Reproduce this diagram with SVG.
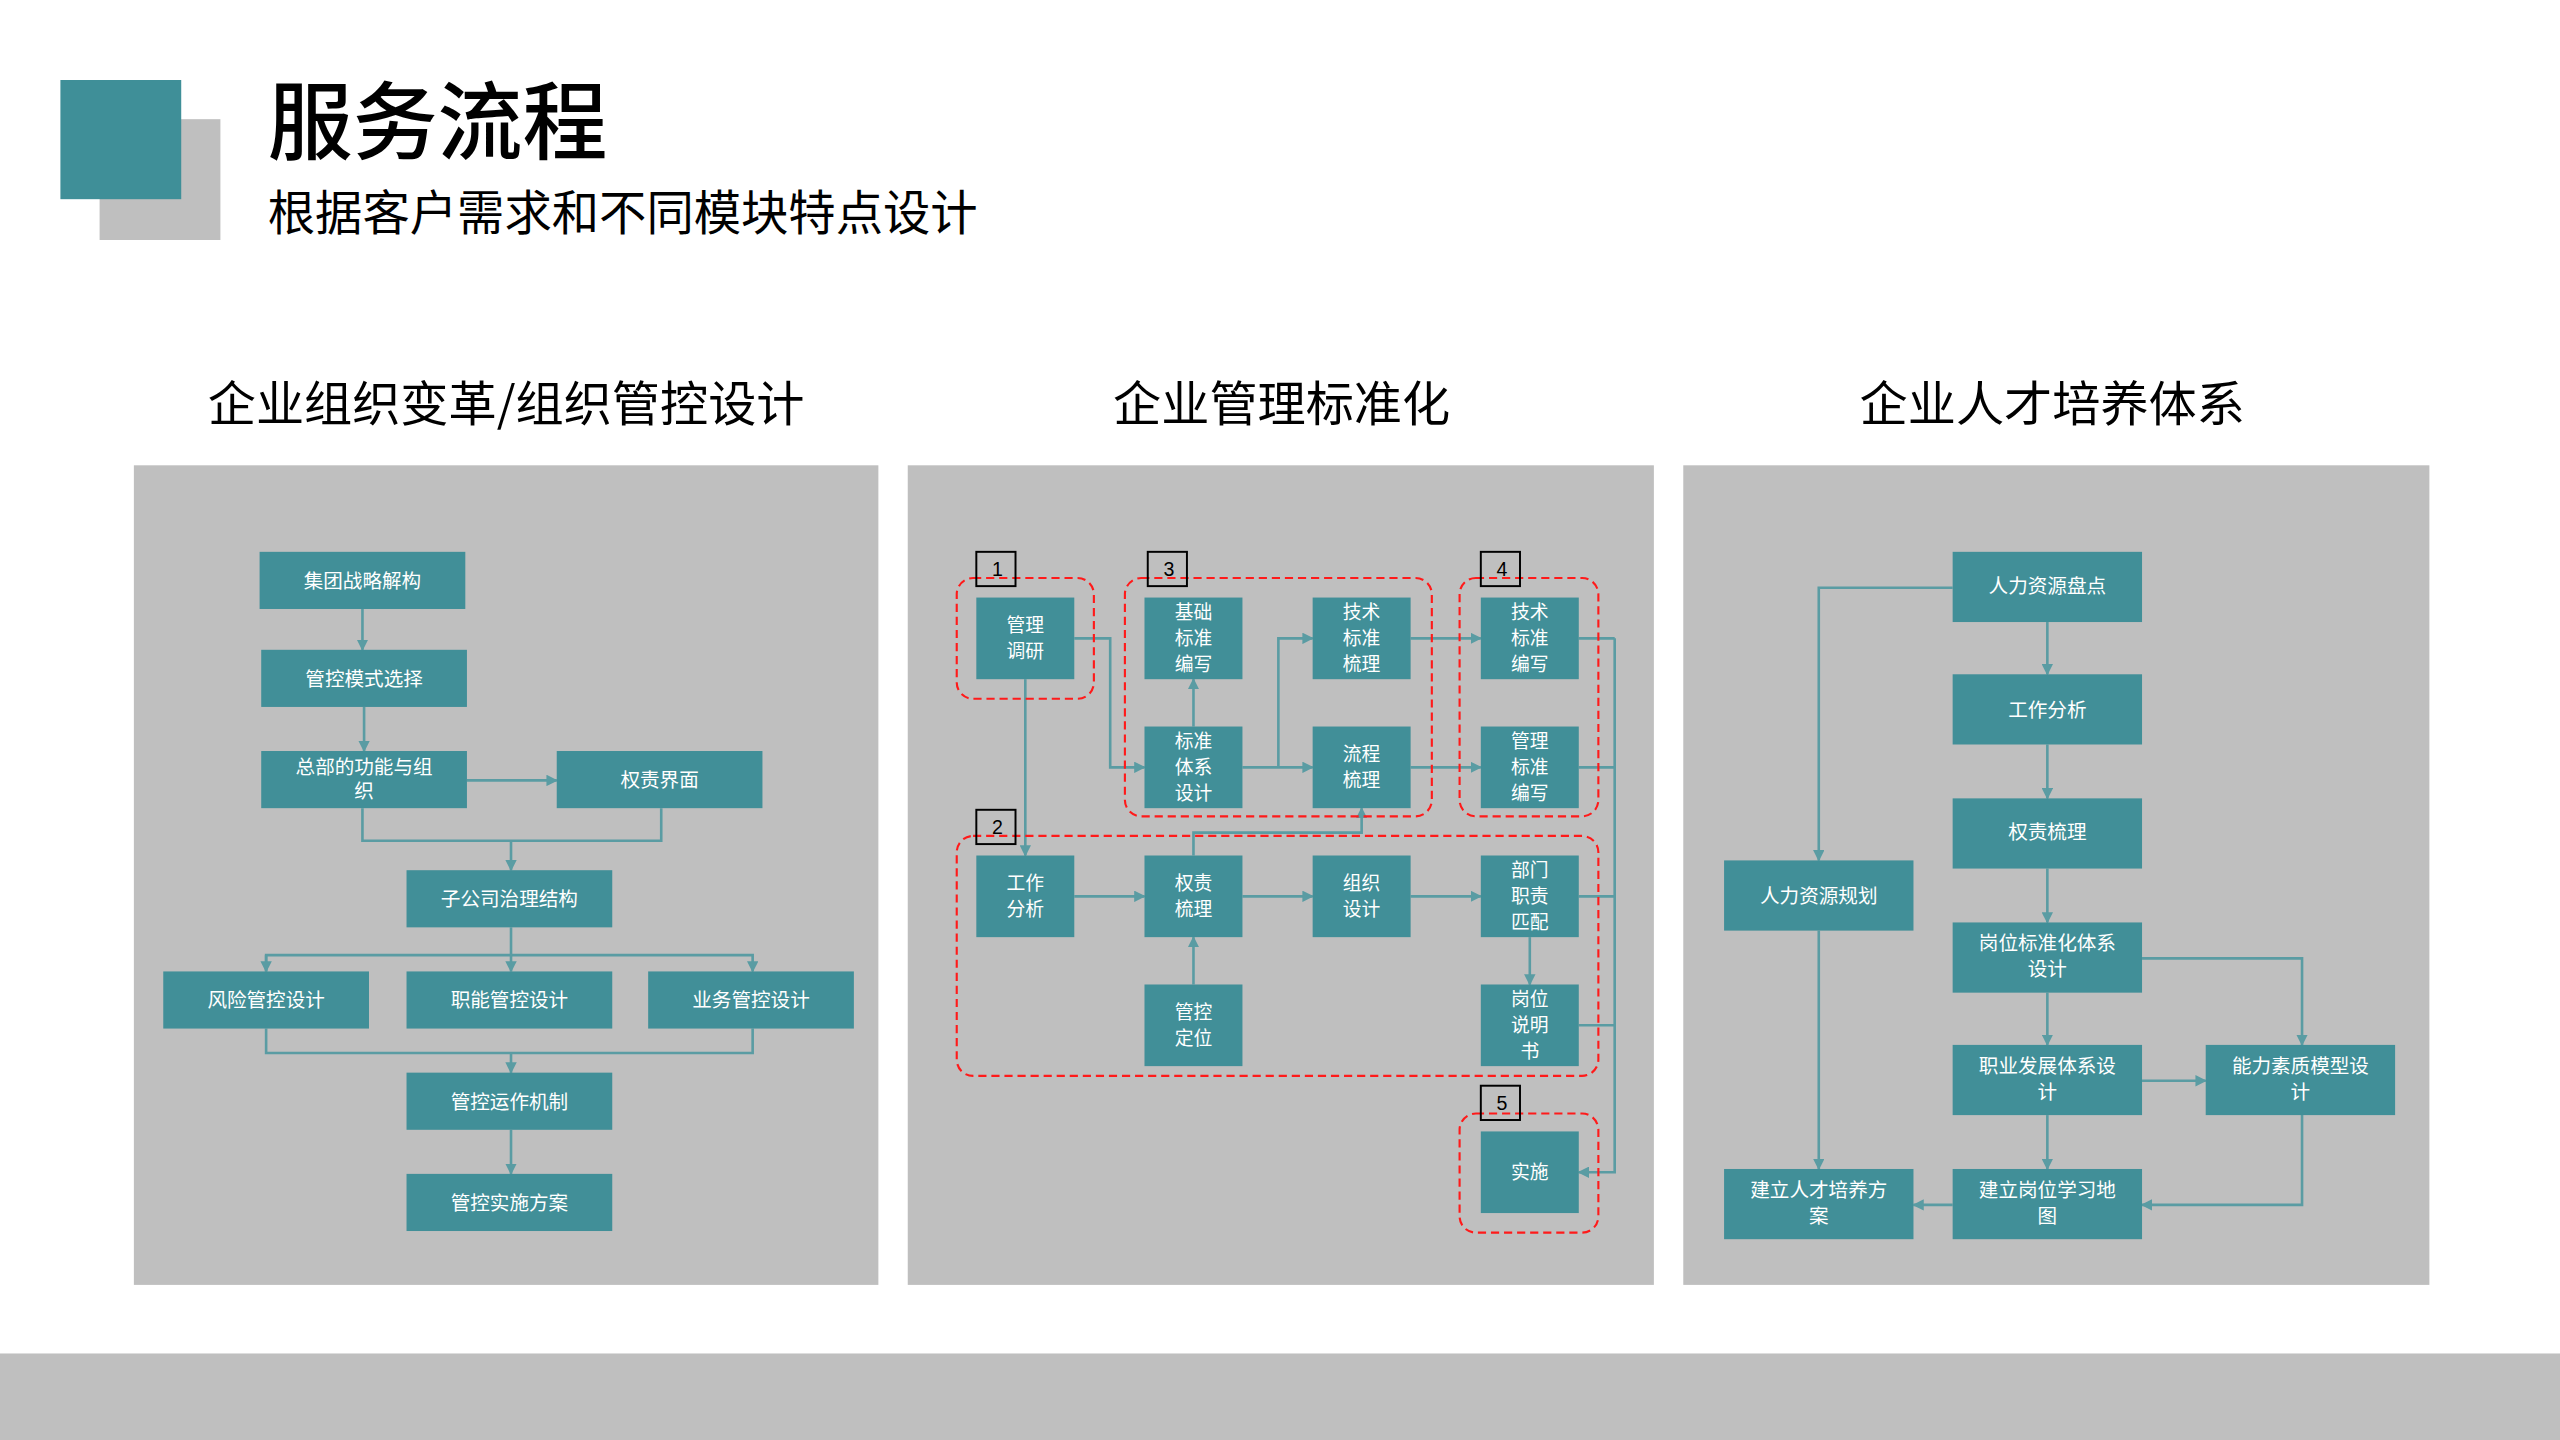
<svg xmlns="http://www.w3.org/2000/svg" width="2560" height="1440" viewBox="0 0 2560 1440">
<style>
.n{fill:#418f98}
.t{fill:#fff;font-family:"Noto Sans CJK SC","Noto Sans",sans-serif;font-size:12px;text-anchor:middle}
.m{font-size:11.5px}
.c{fill:none;stroke:#5a9ca3;stroke-width:1.6}
.r{fill:none;stroke:#ff1a1a;stroke-width:1.3;stroke-dasharray:5 3}
.lb{fill:none;stroke:#000;stroke-width:1.2}
.lt{font-family:"Liberation Sans",sans-serif;font-size:12px;text-anchor:middle;fill:#000}
.h{font-family:"Noto Sans CJK SC",sans-serif;fill:#000}
</style>
<defs><marker id="a" viewBox="0 0 10 10" refX="9" refY="5" markerWidth="7" markerHeight="7" orient="auto" markerUnits="userSpaceOnUse"><path d="M0,0L10,5L0,10z" fill="#5a9ca3"/></marker></defs>
<rect width="2560" height="1440" fill="#fff"/>
<g transform="scale(1.632653)">
<rect x="0" y="829" width="1568" height="53" fill="#bfbfbf"/>
<rect x="61" y="73" width="74" height="74" fill="#bfbfbf"/>
<rect x="37" y="49" width="74" height="73" fill="#3f8f98"/>
<text class="h" x="164" y="94" font-size="52" font-weight="500">服务流程</text>
<text class="h" x="164" y="141" font-size="29">根据客户需求和不同模块特点设计</text>
<text class="h" x="310" y="258" font-size="29.5" text-anchor="middle">企业组织变革/组织管控设计</text>
<text class="h" x="785" y="258" font-size="29.5" text-anchor="middle">企业管理标准化</text>
<text class="h" x="1257" y="258" font-size="29.5" text-anchor="middle">企业人才培养体系</text>
<rect x="82" y="285" width="456" height="502" fill="#bfbfbf"/>
<rect x="556" y="285" width="457" height="502" fill="#bfbfbf"/>
<rect x="1031" y="285" width="457" height="502" fill="#bfbfbf"/>

<g id="connectors">
<path class="c" d="M222,373V398" marker-end="url(#a)"/>
<path class="c" d="M223,433V460" marker-end="url(#a)"/>
<path class="c" d="M286,478H341" marker-end="url(#a)"/>
<path class="c" d="M222,495V515H405V495M313,515V533" marker-end="url(#a)"/>
<path class="c" d="M313,568V585"/>
<path class="c" d="M163,595V585H461V595" marker-end="url(#a)"/>
<path class="c" d="M163,585V595" marker-end="url(#a)"/>
<path class="c" d="M313,585V595" marker-end="url(#a)"/>
<path class="c" d="M163,630V645H461V630M313,645V657" marker-end="url(#a)"/>
<path class="c" d="M313,692V719" marker-end="url(#a)"/>

<path class="c" d="M658,391H680V470H701" marker-end="url(#a)"/>
<path class="c" d="M628,416V524" marker-end="url(#a)"/>
<path class="c" d="M731,445V416" marker-end="url(#a)"/>
<path class="c" d="M761,470H804" marker-end="url(#a)"/>
<path class="c" d="M783,470V391H804" marker-end="url(#a)"/>
<path class="c" d="M864,391H907" marker-end="url(#a)"/>
<path class="c" d="M864,470H907" marker-end="url(#a)"/>
<path class="c" d="M658,549H701" marker-end="url(#a)"/>
<path class="c" d="M761,549H804" marker-end="url(#a)"/>
<path class="c" d="M864,549H907" marker-end="url(#a)"/>
<path class="c" d="M731,603V574" marker-end="url(#a)"/>
<path class="c" d="M731,524V510H834V495" marker-end="url(#a)"/>
<path class="c" d="M937,574V603" marker-end="url(#a)"/>
<path class="c" d="M967,391H989M967,470H989M967,549H989M967,628H989"/>
<path class="c" d="M989,391V718H967" marker-end="url(#a)"/>

<path class="c" d="M1254,381V413" marker-end="url(#a)"/>
<path class="c" d="M1254,456V489" marker-end="url(#a)"/>
<path class="c" d="M1254,532V565" marker-end="url(#a)"/>
<path class="c" d="M1254,608V640" marker-end="url(#a)"/>
<path class="c" d="M1254,683V716" marker-end="url(#a)"/>
<path class="c" d="M1196,360H1114V527" marker-end="url(#a)"/>
<path class="c" d="M1114,570V716" marker-end="url(#a)"/>
<path class="c" d="M1312,587H1410V640" marker-end="url(#a)"/>
<path class="c" d="M1312,662H1351" marker-end="url(#a)"/>
<path class="c" d="M1410,683V738H1312" marker-end="url(#a)"/>
<path class="c" d="M1196,738H1172" marker-end="url(#a)"/>
</g>

<g id="groups">
<rect class="r" x="586" y="354" width="84" height="74" rx="10"/>
<rect class="r" x="689" y="354" width="188" height="146" rx="10"/>
<rect class="r" x="894" y="354" width="85" height="146" rx="10"/>
<rect class="r" x="586" y="512" width="393" height="147" rx="10"/>
<rect class="r" x="894" y="682" width="85" height="73" rx="10"/>
<rect class="lb" x="598" y="338" width="24" height="21" fill="#bfbfbf"/><text class="lt" x="611" y="353">1</text>
<rect class="lb" x="703" y="338" width="24" height="21" fill="#bfbfbf"/><text class="lt" x="716" y="353">3</text>
<rect class="lb" x="907" y="338" width="24" height="21" fill="#bfbfbf"/><text class="lt" x="920" y="353">4</text>
<rect class="lb" x="598" y="496" width="24" height="21" fill="#bfbfbf"/><text class="lt" x="611" y="511">2</text>
<rect class="lb" x="907" y="665" width="24" height="21" fill="#bfbfbf"/><text class="lt" x="920" y="680">5</text>
</g>

<g id="n1"><rect class="n" x="159" y="338" width="126" height="35"/><text class="t" x="222" y="360">集团战略解构</text></g>
<g id="n2"><rect class="n" x="160" y="398" width="126" height="35"/><text class="t" x="223" y="420">管控模式选择</text></g>
<g id="n3"><rect class="n" x="160" y="460" width="126" height="35"/><text class="t" x="223" y="474">总部的功能与组</text><text class="t" x="223" y="489">织</text></g>
<g id="n4"><rect class="n" x="341" y="460" width="126" height="35"/><text class="t" x="404" y="482">权责界面</text></g>
<g id="n5"><rect class="n" x="249" y="533" width="126" height="35"/><text class="t" x="312" y="555">子公司治理结构</text></g>
<g id="n6"><rect class="n" x="100" y="595" width="126" height="35"/><text class="t" x="163" y="617">风险管控设计</text></g>
<g id="n7"><rect class="n" x="249" y="595" width="126" height="35"/><text class="t" x="312" y="617">职能管控设计</text></g>
<g id="n8"><rect class="n" x="397" y="595" width="126" height="35"/><text class="t" x="460" y="617">业务管控设计</text></g>
<g id="n9"><rect class="n" x="249" y="657" width="126" height="35"/><text class="t" x="312" y="679">管控运作机制</text></g>
<g id="n10"><rect class="n" x="249" y="719" width="126" height="35"/><text class="t" x="312" y="741">管控实施方案</text></g>

<g id="m1"><rect class="n" x="598" y="366" width="60" height="50"/><text class="t m" x="628" y="387">管理</text><text class="t m" x="628" y="403">调研</text></g>
<g id="m2"><rect class="n" x="701" y="366" width="60" height="50"/><text class="t m" x="731" y="379">基础</text><text class="t m" x="731" y="395">标准</text><text class="t m" x="731" y="411">编写</text></g>
<g id="m3"><rect class="n" x="804" y="366" width="60" height="50"/><text class="t m" x="834" y="379">技术</text><text class="t m" x="834" y="395">标准</text><text class="t m" x="834" y="411">梳理</text></g>
<g id="m4"><rect class="n" x="907" y="366" width="60" height="50"/><text class="t m" x="937" y="379">技术</text><text class="t m" x="937" y="395">标准</text><text class="t m" x="937" y="411">编写</text></g>
<g id="m5"><rect class="n" x="701" y="445" width="60" height="50"/><text class="t m" x="731" y="458">标准</text><text class="t m" x="731" y="474">体系</text><text class="t m" x="731" y="490">设计</text></g>
<g id="m6"><rect class="n" x="804" y="445" width="60" height="50"/><text class="t m" x="834" y="466">流程</text><text class="t m" x="834" y="482">梳理</text></g>
<g id="m7"><rect class="n" x="907" y="445" width="60" height="50"/><text class="t m" x="937" y="458">管理</text><text class="t m" x="937" y="474">标准</text><text class="t m" x="937" y="490">编写</text></g>
<g id="m8"><rect class="n" x="598" y="524" width="60" height="50"/><text class="t m" x="628" y="545">工作</text><text class="t m" x="628" y="561">分析</text></g>
<g id="m9"><rect class="n" x="701" y="524" width="60" height="50"/><text class="t m" x="731" y="545">权责</text><text class="t m" x="731" y="561">梳理</text></g>
<g id="m10"><rect class="n" x="804" y="524" width="60" height="50"/><text class="t m" x="834" y="545">组织</text><text class="t m" x="834" y="561">设计</text></g>
<g id="m11"><rect class="n" x="907" y="524" width="60" height="50"/><text class="t m" x="937" y="537">部门</text><text class="t m" x="937" y="553">职责</text><text class="t m" x="937" y="569">匹配</text></g>
<g id="m12"><rect class="n" x="701" y="603" width="60" height="50"/><text class="t m" x="731" y="624">管控</text><text class="t m" x="731" y="640">定位</text></g>
<g id="m13"><rect class="n" x="907" y="603" width="60" height="50"/><text class="t m" x="937" y="616">岗位</text><text class="t m" x="937" y="632">说明</text><text class="t m" x="937" y="648">书</text></g>
<g id="m14"><rect class="n" x="907" y="693" width="60" height="50"/><text class="t m" x="937" y="722">实施</text></g>

<g id="r1"><rect class="n" x="1196" y="338" width="116" height="43"/><text class="t" x="1254" y="363">人力资源盘点</text></g>
<g id="r2"><rect class="n" x="1196" y="413" width="116" height="43"/><text class="t" x="1254" y="439">工作分析</text></g>
<g id="r3"><rect class="n" x="1196" y="489" width="116" height="43"/><text class="t" x="1254" y="514">权责梳理</text></g>
<g id="r4"><rect class="n" x="1196" y="565" width="116" height="43"/><text class="t" x="1254" y="582">岗位标准化体系</text><text class="t" x="1254" y="598">设计</text></g>
<g id="r5"><rect class="n" x="1196" y="640" width="116" height="43"/><text class="t" x="1254" y="657">职业发展体系设</text><text class="t" x="1254" y="673">计</text></g>
<g id="r6"><rect class="n" x="1196" y="716" width="116" height="43"/><text class="t" x="1254" y="733">建立岗位学习地</text><text class="t" x="1254" y="749">图</text></g>
<g id="r7"><rect class="n" x="1351" y="640" width="116" height="43"/><text class="t" x="1409" y="657">能力素质模型设</text><text class="t" x="1409" y="673">计</text></g>
<g id="r8"><rect class="n" x="1056" y="527" width="116" height="43"/><text class="t" x="1114" y="553">人力资源规划</text></g>
<g id="r9"><rect class="n" x="1056" y="716" width="116" height="43"/><text class="t" x="1114" y="733">建立人才培养方</text><text class="t" x="1114" y="749">案</text></g>
</g>
</svg>
